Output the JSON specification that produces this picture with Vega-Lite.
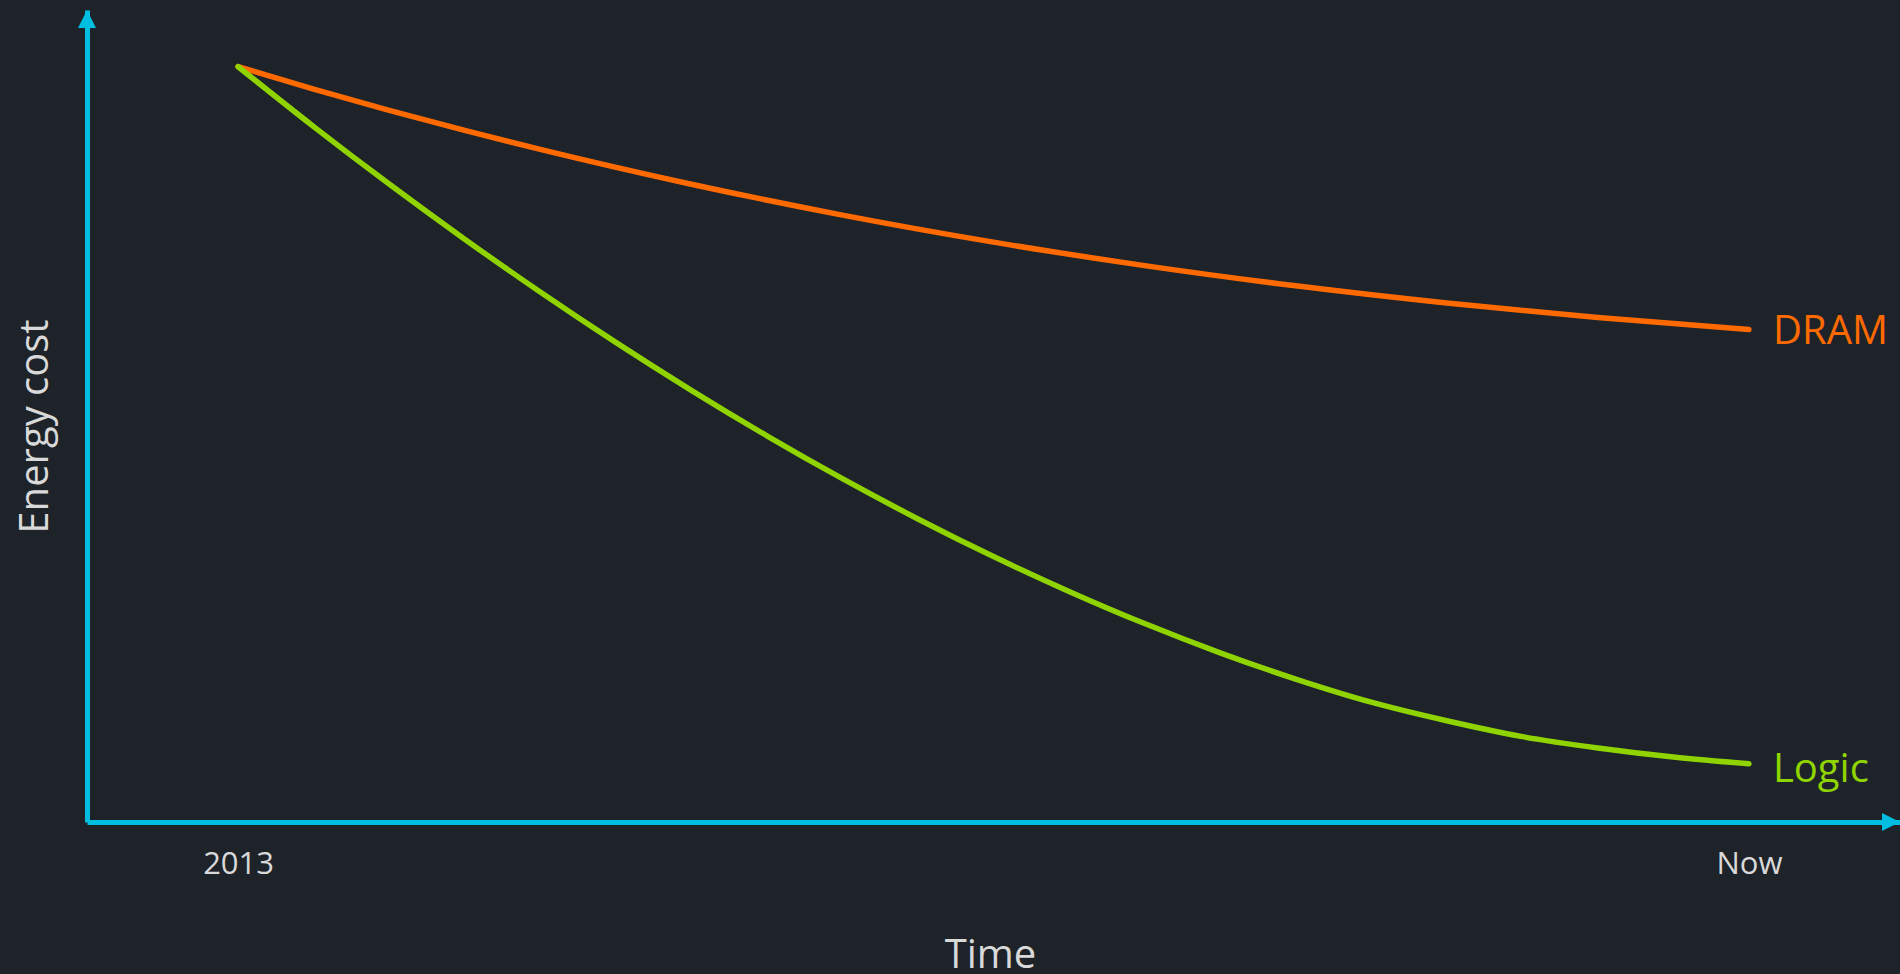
{
  "$schema": "https://vega.github.io/schema/vega-lite/v6.json",
  "width": 1813,
  "height": 812,
  "autosize": {"type": "none"},
  "padding": {"left": 87, "top": 10, "right": 0, "bottom": 152},
  "background": "#1e232a",
  "config": {"view": {"stroke": null}},
  "data": {
    "values": [
      {"series": "DRAM", "t": 0, "e": 100},
      {"series": "DRAM", "t": 5, "e": 97.03},
      {"series": "DRAM", "t": 10, "e": 94.22},
      {"series": "DRAM", "t": 15, "e": 91.56},
      {"series": "DRAM", "t": 20, "e": 89.04},
      {"series": "DRAM", "t": 30, "e": 84.43},
      {"series": "DRAM", "t": 40, "e": 80.35},
      {"series": "DRAM", "t": 50, "e": 76.77},
      {"series": "DRAM", "t": 60, "e": 73.66},
      {"series": "DRAM", "t": 70, "e": 70.98},
      {"series": "DRAM", "t": 80, "e": 68.70},
      {"series": "DRAM", "t": 90, "e": 66.78},
      {"series": "DRAM", "t": 100, "e": 65.2},
      {"series": "Logic", "t": 0, "e": 100},
      {"series": "Logic", "t": 5, "e": 92.07},
      {"series": "Logic", "t": 10, "e": 84.46},
      {"series": "Logic", "t": 15, "e": 77.16},
      {"series": "Logic", "t": 20, "e": 70.16},
      {"series": "Logic", "t": 25, "e": 63.49},
      {"series": "Logic", "t": 30, "e": 57.15},
      {"series": "Logic", "t": 35, "e": 51.13},
      {"series": "Logic", "t": 40, "e": 45.45},
      {"series": "Logic", "t": 45, "e": 40.12},
      {"series": "Logic", "t": 50, "e": 35.14},
      {"series": "Logic", "t": 55, "e": 30.53},
      {"series": "Logic", "t": 60, "e": 26.27},
      {"series": "Logic", "t": 65, "e": 22.40},
      {"series": "Logic", "t": 70, "e": 18.92},
      {"series": "Logic", "t": 75, "e": 15.86},
      {"series": "Logic", "t": 80, "e": 13.4},
      {"series": "Logic", "t": 85, "e": 11.3},
      {"series": "Logic", "t": 90, "e": 9.8},
      {"series": "Logic", "t": 95, "e": 8.6},
      {"series": "Logic", "t": 100, "e": 7.7}
    ]
  },
  "layer": [
    {
      "mark": {"type": "line", "strokeWidth": 5.5, "strokeCap": "round", "strokeJoin": "round", "interpolate": "monotone"},
      "encoding": {
        "x": {
          "field": "t", "type": "quantitative",
          "scale": {"domain": [-10, 110], "nice": false, "zero": false},
          "axis": {
            "values": [0, 100],
            "labelExpr": "datum.value == 0 ? '2013' : 'Now'",
            "grid": false, "ticks": false, "tickSize": 0,
            "domainColor": "#00bedf", "domainWidth": 5,
            "labelFont": "Open Sans", "labelFontSize": 31, "labelColor": "#d9d9d9",
            "labelBaseline": "alphabetic", "labelPadding": 51,
            "labelFlush": false, "labelOverlap": false,
            "title": "Time", "titleFont": "Open Sans", "titleFontSize": 40,
            "titleFontWeight": "normal", "titleColor": "#d9d9d9",
            "titleX": 903, "titleY": 145, "titleBaseline": "alphabetic", "titleAlign": "center"
          }
        },
        "y": {
          "field": "e", "type": "quantitative",
          "scale": {"domain": [0, 107.5], "nice": false, "zero": false},
          "axis": {
            "labels": false, "ticks": false, "tickSize": 0, "grid": false,
            "domainColor": "#00bedf", "domainWidth": 5,
            "title": "Energy cost", "titleFont": "Open Sans", "titleFontSize": 40,
            "titleFontWeight": "normal", "titleColor": "#d9d9d9",
            "titleX": -40, "titleY": 416, "titleAngle": 270,
            "titleBaseline": "alphabetic", "titleAlign": "center"
          }
        },
        "color": {
          "field": "series", "type": "nominal",
          "scale": {"domain": ["DRAM", "Logic"], "range": ["#ff6a00", "#8fd400"]},
          "legend": null
        }
      }
    },
    {
      "transform": [{"filter": "datum.series == 'DRAM' && datum.t == 100"}],
      "mark": {"type": "text", "align": "left", "baseline": "alphabetic", "dx": 24, "dy": 14, "font": "Open Sans", "fontSize": 40},
      "encoding": {
        "x": {"field": "t", "type": "quantitative"},
        "y": {"field": "e", "type": "quantitative"},
        "text": {"field": "series"},
        "color": {"field": "series", "type": "nominal", "legend": null}
      }
    },
    {
      "transform": [{"filter": "datum.series == 'Logic' && datum.t == 100"}],
      "mark": {"type": "text", "align": "left", "baseline": "alphabetic", "dx": 24, "dy": 18, "font": "Open Sans", "fontSize": 40},
      "encoding": {
        "x": {"field": "t", "type": "quantitative"},
        "y": {"field": "e", "type": "quantitative"},
        "text": {"field": "series"},
        "color": {"field": "series", "type": "nominal", "legend": null}
      }
    },
    {
      "data": {"values": [{}]},
      "mark": {"type": "point", "filled": true, "opacity": 1, "color": "#00bedf", "shape": "M0,-1L1,1L-1,1Z", "size": 324, "yOffset": 9},
      "encoding": {
        "x": {"datum": -10, "type": "quantitative"},
        "y": {"datum": 107.5, "type": "quantitative"}
      }
    },
    {
      "data": {"values": [{}]},
      "mark": {"type": "point", "filled": true, "opacity": 1, "color": "#00bedf", "shape": "M1,0L-1,-1L-1,1Z", "size": 324, "xOffset": -9},
      "encoding": {
        "x": {"datum": 110, "type": "quantitative"},
        "y": {"datum": 0, "type": "quantitative"}
      }
    }
  ]
}
